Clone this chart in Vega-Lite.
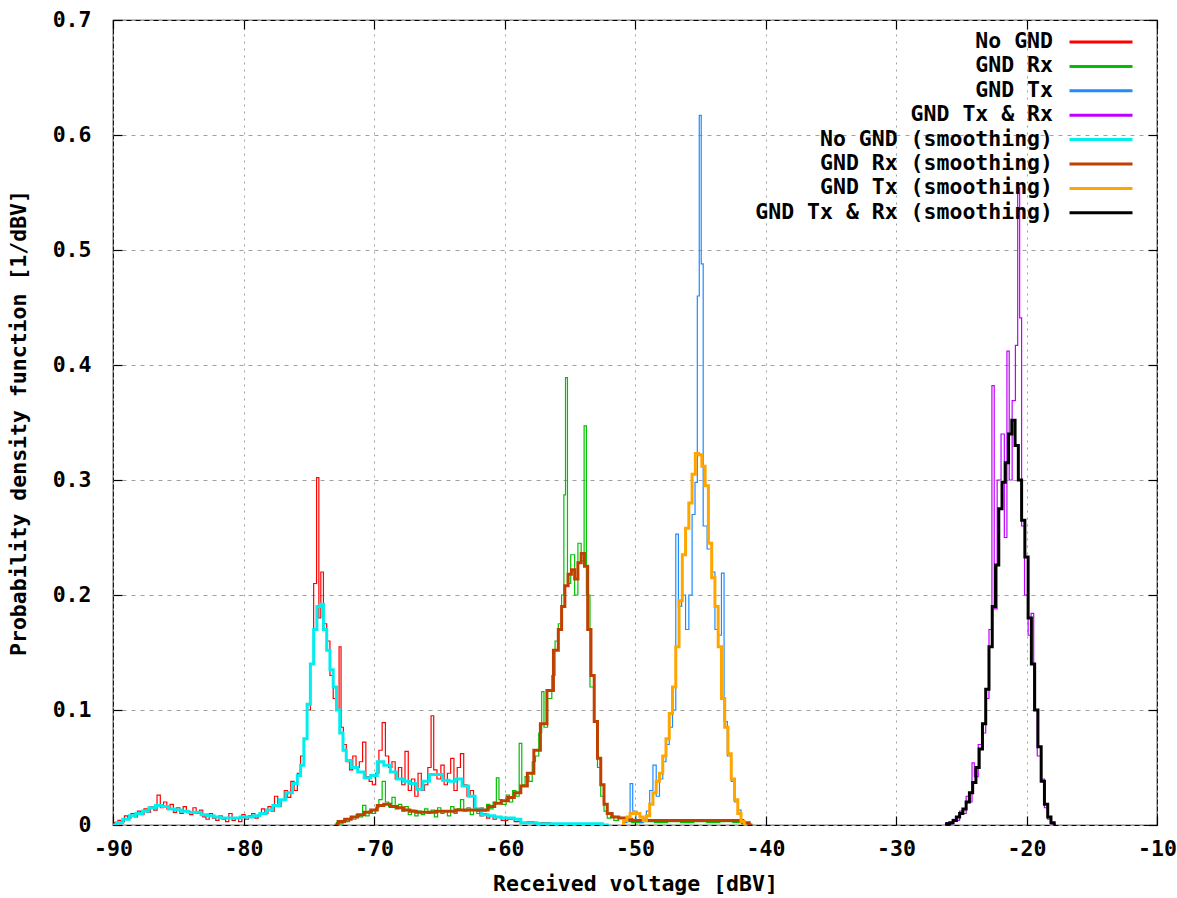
{
  "$schema": "https://vega.github.io/schema/vega-lite/v6.json",
  "width": 1044,
  "height": 805,
  "autosize": {"type": "none"},
  "padding": {"left": 113, "top": 20, "right": 20, "bottom": 73},
  "background": "white",
  "config": {
    "view": {"stroke": "#000000", "strokeWidth": 1.2},
    "font": "DejaVu Sans Mono",
    "axis": {"labelFont": "DejaVu Sans Mono", "labelFontWeight": "bold", "labelFontSize": 21.5, "labelColor": "#000000", "titleFont": "DejaVu Sans Mono", "titleFontWeight": "bold", "titleFontSize": 21.5, "titleColor": "#000000", "tickColor": "#000000", "tickSize": -9, "tickWidth": 1.2, "domain": false, "labelFlush": false},
    "legend": {"labelFont": "DejaVu Sans Mono", "labelFontWeight": "bold", "labelFontSize": 21.5, "labelColor": "#000000"}
  },
  "datasets": {
    "raw": [
      {"s":"No GND","v":-90,"p":0},{"s":"No GND","v":-89.75,"p":0.002},{"s":"No GND","v":-89.5,"p":0.004},{"s":"No GND","v":-89.25,"p":0.003},{"s":"No GND","v":-89,"p":0.008},{"s":"No GND","v":-88.75,"p":0.006},{"s":"No GND","v":-88.5,"p":0.01},{"s":"No GND","v":-88.25,"p":0.007},{"s":"No GND","v":-88,"p":0.012},{"s":"No GND","v":-87.75,"p":0.009},{"s":"No GND","v":-87.5,"p":0.014},{"s":"No GND","v":-87.25,"p":0.011},{"s":"No GND","v":-87,"p":0.016},{"s":"No GND","v":-86.75,"p":0.013},{"s":"No GND","v":-86.5,"p":0.026},{"s":"No GND","v":-86.25,"p":0.015},{"s":"No GND","v":-86,"p":0.02},{"s":"No GND","v":-85.75,"p":0.014},{"s":"No GND","v":-85.5,"p":0.018},{"s":"No GND","v":-85.25,"p":0.011},{"s":"No GND","v":-85,"p":0.015},{"s":"No GND","v":-84.75,"p":0.01},{"s":"No GND","v":-84.5,"p":0.016},{"s":"No GND","v":-84.25,"p":0.012},{"s":"No GND","v":-84,"p":0.009},{"s":"No GND","v":-83.75,"p":0.015},{"s":"No GND","v":-83.5,"p":0.01},{"s":"No GND","v":-83.25,"p":0.013},{"s":"No GND","v":-83,"p":0.007},{"s":"No GND","v":-82.75,"p":0.005},{"s":"No GND","v":-82.5,"p":0.01},{"s":"No GND","v":-82.25,"p":0.006},{"s":"No GND","v":-82,"p":0.004},{"s":"No GND","v":-81.75,"p":0.008},{"s":"No GND","v":-81.5,"p":0.005},{"s":"No GND","v":-81.25,"p":0.003},{"s":"No GND","v":-81,"p":0.01},{"s":"No GND","v":-80.75,"p":0.004},{"s":"No GND","v":-80.5,"p":0.006},{"s":"No GND","v":-80.25,"p":0.003},{"s":"No GND","v":-80,"p":0.009},{"s":"No GND","v":-79.75,"p":0.005},{"s":"No GND","v":-79.5,"p":0.008},{"s":"No GND","v":-79.25,"p":0.01},{"s":"No GND","v":-79,"p":0.006},{"s":"No GND","v":-78.75,"p":0.009},{"s":"No GND","v":-78.5,"p":0.014},{"s":"No GND","v":-78.25,"p":0.01},{"s":"No GND","v":-78,"p":0.016},{"s":"No GND","v":-77.75,"p":0.012},{"s":"No GND","v":-77.5,"p":0.025},{"s":"No GND","v":-77.25,"p":0.016},{"s":"No GND","v":-77,"p":0.022},{"s":"No GND","v":-76.75,"p":0.03},{"s":"No GND","v":-76.5,"p":0.024},{"s":"No GND","v":-76.25,"p":0.038},{"s":"No GND","v":-76,"p":0.03},{"s":"No GND","v":-75.75,"p":0.045},{"s":"No GND","v":-75.5,"p":0.06},{"s":"No GND","v":-75.25,"p":0.075},{"s":"No GND","v":-75,"p":0.1},{"s":"No GND","v":-74.75,"p":0.14},{"s":"No GND","v":-74.5,"p":0.21},{"s":"No GND","v":-74.3,"p":0.302},{"s":"No GND","v":-74.15,"p":0.18},{"s":"No GND","v":-74,"p":0.22},{"s":"No GND","v":-73.75,"p":0.175},{"s":"No GND","v":-73.5,"p":0.16},{"s":"No GND","v":-73.25,"p":0.13},{"s":"No GND","v":-73,"p":0.11},{"s":"No GND","v":-72.75,"p":0.1},{"s":"No GND","v":-72.6,"p":0.155},{"s":"No GND","v":-72.45,"p":0.085},{"s":"No GND","v":-72.25,"p":0.07},{"s":"No GND","v":-72,"p":0.055},{"s":"No GND","v":-71.75,"p":0.048},{"s":"No GND","v":-71.5,"p":0.06},{"s":"No GND","v":-71.25,"p":0.05},{"s":"No GND","v":-71,"p":0.055},{"s":"No GND","v":-70.75,"p":0.072},{"s":"No GND","v":-70.5,"p":0.042},{"s":"No GND","v":-70.25,"p":0.038},{"s":"No GND","v":-70,"p":0.035},{"s":"No GND","v":-69.75,"p":0.045},{"s":"No GND","v":-69.5,"p":0.065},{"s":"No GND","v":-69.25,"p":0.089},{"s":"No GND","v":-69,"p":0.06},{"s":"No GND","v":-68.75,"p":0.05},{"s":"No GND","v":-68.5,"p":0.055},{"s":"No GND","v":-68.25,"p":0.04},{"s":"No GND","v":-68,"p":0.05},{"s":"No GND","v":-67.75,"p":0.035},{"s":"No GND","v":-67.5,"p":0.064},{"s":"No GND","v":-67.25,"p":0.03},{"s":"No GND","v":-67,"p":0.04},{"s":"No GND","v":-66.75,"p":0.025},{"s":"No GND","v":-66.5,"p":0.045},{"s":"No GND","v":-66.25,"p":0.03},{"s":"No GND","v":-66,"p":0.035},{"s":"No GND","v":-65.75,"p":0.05},{"s":"No GND","v":-65.5,"p":0.095},{"s":"No GND","v":-65.35,"p":0.048},{"s":"No GND","v":-65,"p":0.04},{"s":"No GND","v":-64.75,"p":0.052},{"s":"No GND","v":-64.5,"p":0.035},{"s":"No GND","v":-64.25,"p":0.045},{"s":"No GND","v":-64,"p":0.058},{"s":"No GND","v":-63.75,"p":0.03},{"s":"No GND","v":-63.5,"p":0.05},{"s":"No GND","v":-63.25,"p":0.062},{"s":"No GND","v":-63,"p":0.035},{"s":"No GND","v":-62.75,"p":0.025},{"s":"No GND","v":-62.5,"p":0.03},{"s":"No GND","v":-62.25,"p":0.015},{"s":"No GND","v":-62,"p":0.012},{"s":"No GND","v":-61.75,"p":0.008},{"s":"No GND","v":-61.5,"p":0.01},{"s":"No GND","v":-61.25,"p":0.006},{"s":"No GND","v":-61,"p":0.008},{"s":"No GND","v":-60.75,"p":0.005},{"s":"No GND","v":-60.5,"p":0.007},{"s":"No GND","v":-60,"p":0.004},{"s":"No GND","v":-59.5,"p":0.005},{"s":"No GND","v":-59,"p":0.003},{"s":"No GND","v":-58.5,"p":0.002},{"s":"No GND","v":-58,"p":0.003},{"s":"No GND","v":-57.5,"p":0.001},{"s":"No GND","v":-57,"p":0.002},{"s":"No GND","v":-56,"p":0.001},{"s":"No GND","v":-55,"p":0},

      {"s":"GND Rx","v":-73,"p":0},{"s":"GND Rx","v":-72.75,"p":0.002},{"s":"GND Rx","v":-72.5,"p":0.001},{"s":"GND Rx","v":-72.25,"p":0.004},{"s":"GND Rx","v":-72,"p":0.003},{"s":"GND Rx","v":-71.75,"p":0.006},{"s":"GND Rx","v":-71.5,"p":0.005},{"s":"GND Rx","v":-71.25,"p":0.009},{"s":"GND Rx","v":-71,"p":0.007},{"s":"GND Rx","v":-70.75,"p":0.017},{"s":"GND Rx","v":-70.5,"p":0.008},{"s":"GND Rx","v":-70.25,"p":0.012},{"s":"GND Rx","v":-70,"p":0.01},{"s":"GND Rx","v":-69.75,"p":0.015},{"s":"GND Rx","v":-69.5,"p":0.022},{"s":"GND Rx","v":-69.25,"p":0.038},{"s":"GND Rx","v":-69,"p":0.02},{"s":"GND Rx","v":-68.75,"p":0.016},{"s":"GND Rx","v":-68.5,"p":0.024},{"s":"GND Rx","v":-68.25,"p":0.014},{"s":"GND Rx","v":-68,"p":0.018},{"s":"GND Rx","v":-67.75,"p":0.012},{"s":"GND Rx","v":-67.5,"p":0.016},{"s":"GND Rx","v":-67.25,"p":0.009},{"s":"GND Rx","v":-67,"p":0.013},{"s":"GND Rx","v":-66.75,"p":0.008},{"s":"GND Rx","v":-66.5,"p":0.012},{"s":"GND Rx","v":-66.25,"p":0.009},{"s":"GND Rx","v":-66,"p":0.014},{"s":"GND Rx","v":-65.75,"p":0.01},{"s":"GND Rx","v":-65.5,"p":0.013},{"s":"GND Rx","v":-65.25,"p":0.007},{"s":"GND Rx","v":-65,"p":0.015},{"s":"GND Rx","v":-64.75,"p":0.01},{"s":"GND Rx","v":-64.5,"p":0.012},{"s":"GND Rx","v":-64.25,"p":0.008},{"s":"GND Rx","v":-64,"p":0.016},{"s":"GND Rx","v":-63.75,"p":0.01},{"s":"GND Rx","v":-63.5,"p":0.014},{"s":"GND Rx","v":-63.25,"p":0.022},{"s":"GND Rx","v":-63,"p":0.012},{"s":"GND Rx","v":-62.75,"p":0.015},{"s":"GND Rx","v":-62.5,"p":0.009},{"s":"GND Rx","v":-62.25,"p":0.013},{"s":"GND Rx","v":-62,"p":0.01},{"s":"GND Rx","v":-61.75,"p":0.015},{"s":"GND Rx","v":-61.5,"p":0.012},{"s":"GND Rx","v":-61.25,"p":0.018},{"s":"GND Rx","v":-61,"p":0.014},{"s":"GND Rx","v":-60.75,"p":0.02},{"s":"GND Rx","v":-60.5,"p":0.041},{"s":"GND Rx","v":-60.35,"p":0.022},{"s":"GND Rx","v":-60,"p":0.018},{"s":"GND Rx","v":-59.75,"p":0.026},{"s":"GND Rx","v":-59.5,"p":0.02},{"s":"GND Rx","v":-59.25,"p":0.03},{"s":"GND Rx","v":-59,"p":0.025},{"s":"GND Rx","v":-58.75,"p":0.071},{"s":"GND Rx","v":-58.6,"p":0.035},{"s":"GND Rx","v":-58.25,"p":0.042},{"s":"GND Rx","v":-58,"p":0.038},{"s":"GND Rx","v":-57.75,"p":0.055},{"s":"GND Rx","v":-57.5,"p":0.06},{"s":"GND Rx","v":-57.25,"p":0.08},{"s":"GND Rx","v":-57.05,"p":0.116},{"s":"GND Rx","v":-56.9,"p":0.085},{"s":"GND Rx","v":-56.5,"p":0.11},{"s":"GND Rx","v":-56.25,"p":0.13},{"s":"GND Rx","v":-56,"p":0.16},{"s":"GND Rx","v":-55.75,"p":0.175},{"s":"GND Rx","v":-55.5,"p":0.2},{"s":"GND Rx","v":-55.4,"p":0.287},{"s":"GND Rx","v":-55.25,"p":0.389},{"s":"GND Rx","v":-55.1,"p":0.21},{"s":"GND Rx","v":-54.75,"p":0.235},{"s":"GND Rx","v":-54.5,"p":0.2},{"s":"GND Rx","v":-54.25,"p":0.245},{"s":"GND Rx","v":-54,"p":0.23},{"s":"GND Rx","v":-53.8,"p":0.347},{"s":"GND Rx","v":-53.65,"p":0.2},{"s":"GND Rx","v":-53.25,"p":0.12},{"s":"GND Rx","v":-53,"p":0.09},{"s":"GND Rx","v":-52.75,"p":0.05},{"s":"GND Rx","v":-52.5,"p":0.025},{"s":"GND Rx","v":-52.25,"p":0.012},{"s":"GND Rx","v":-52,"p":0.006},{"s":"GND Rx","v":-51.75,"p":0.008},{"s":"GND Rx","v":-51.5,"p":0.004},{"s":"GND Rx","v":-51,"p":0.006},{"s":"GND Rx","v":-50.5,"p":0.003},{"s":"GND Rx","v":-50,"p":0.002},{"s":"GND Rx","v":-49,"p":0.003},{"s":"GND Rx","v":-48,"p":0.002},{"s":"GND Rx","v":-47,"p":0.003},{"s":"GND Rx","v":-46,"p":0.002},{"s":"GND Rx","v":-45,"p":0.003},{"s":"GND Rx","v":-44,"p":0.002},{"s":"GND Rx","v":-43,"p":0.003},{"s":"GND Rx","v":-42,"p":0.002},{"s":"GND Rx","v":-41.5,"p":0.001},{"s":"GND Rx","v":-41,"p":0},

      {"s":"GND Tx","v":-51,"p":0},{"s":"GND Tx","v":-50.75,"p":0.002},{"s":"GND Tx","v":-50.5,"p":0.004},{"s":"GND Tx","v":-50.25,"p":0.036},{"s":"GND Tx","v":-50.1,"p":0.012},{"s":"GND Tx","v":-49.75,"p":0.004},{"s":"GND Tx","v":-49.5,"p":0.002},{"s":"GND Tx","v":-49.25,"p":0.006},{"s":"GND Tx","v":-49,"p":0.012},{"s":"GND Tx","v":-48.75,"p":0.03},{"s":"GND Tx","v":-48.5,"p":0.052},{"s":"GND Tx","v":-48.25,"p":0.025},{"s":"GND Tx","v":-48,"p":0.04},{"s":"GND Tx","v":-47.75,"p":0.055},{"s":"GND Tx","v":-47.5,"p":0.07},{"s":"GND Tx","v":-47.25,"p":0.085},{"s":"GND Tx","v":-47,"p":0.1},{"s":"GND Tx","v":-46.75,"p":0.253},{"s":"GND Tx","v":-46.6,"p":0.19},{"s":"GND Tx","v":-46.25,"p":0.2},{"s":"GND Tx","v":-46,"p":0.17},{"s":"GND Tx","v":-45.75,"p":0.2},{"s":"GND Tx","v":-45.5,"p":0.27},{"s":"GND Tx","v":-45.3,"p":0.298},{"s":"GND Tx","v":-45.15,"p":0.46},{"s":"GND Tx","v":-45,"p":0.617},{"s":"GND Tx","v":-44.85,"p":0.488},{"s":"GND Tx","v":-44.7,"p":0.26},{"s":"GND Tx","v":-44.25,"p":0.24},{"s":"GND Tx","v":-44,"p":0.22},{"s":"GND Tx","v":-43.75,"p":0.17},{"s":"GND Tx","v":-43.5,"p":0.165},{"s":"GND Tx","v":-43.25,"p":0.219},{"s":"GND Tx","v":-43.1,"p":0.09},{"s":"GND Tx","v":-42.75,"p":0.06},{"s":"GND Tx","v":-42.5,"p":0.038},{"s":"GND Tx","v":-42.25,"p":0.02},{"s":"GND Tx","v":-42,"p":0.013},{"s":"GND Tx","v":-41.75,"p":0.004},{"s":"GND Tx","v":-41.5,"p":0},

      {"s":"GND Tx & Rx","v":-26.25,"p":0},{"s":"GND Tx & Rx","v":-26,"p":0.002},{"s":"GND Tx & Rx","v":-25.75,"p":0.001},{"s":"GND Tx & Rx","v":-25.5,"p":0.005},{"s":"GND Tx & Rx","v":-25.25,"p":0.004},{"s":"GND Tx & Rx","v":-25,"p":0.012},{"s":"GND Tx & Rx","v":-24.75,"p":0.01},{"s":"GND Tx & Rx","v":-24.5,"p":0.025},{"s":"GND Tx & Rx","v":-24.25,"p":0.02},{"s":"GND Tx & Rx","v":-24.1,"p":0.054},{"s":"GND Tx & Rx","v":-23.9,"p":0.042},{"s":"GND Tx & Rx","v":-23.5,"p":0.07},{"s":"GND Tx & Rx","v":-23.25,"p":0.08},{"s":"GND Tx & Rx","v":-23,"p":0.11},{"s":"GND Tx & Rx","v":-22.75,"p":0.17},{"s":"GND Tx & Rx","v":-22.55,"p":0.382},{"s":"GND Tx & Rx","v":-22.4,"p":0.188},{"s":"GND Tx & Rx","v":-22.1,"p":0.3},{"s":"GND Tx & Rx","v":-21.8,"p":0.34},{"s":"GND Tx & Rx","v":-21.6,"p":0.25},{"s":"GND Tx & Rx","v":-21.4,"p":0.412},{"s":"GND Tx & Rx","v":-21.25,"p":0.3},{"s":"GND Tx & Rx","v":-20.95,"p":0.369},{"s":"GND Tx & Rx","v":-20.75,"p":0.417},{"s":"GND Tx & Rx","v":-20.6,"p":0.554},{"s":"GND Tx & Rx","v":-20.45,"p":0.441},{"s":"GND Tx & Rx","v":-20.3,"p":0.26},{"s":"GND Tx & Rx","v":-20,"p":0.2},{"s":"GND Tx & Rx","v":-19.75,"p":0.165},{"s":"GND Tx & Rx","v":-19.55,"p":0.184},{"s":"GND Tx & Rx","v":-19.35,"p":0.1},{"s":"GND Tx & Rx","v":-19,"p":0.06},{"s":"GND Tx & Rx","v":-18.75,"p":0.04},{"s":"GND Tx & Rx","v":-18.5,"p":0.015},{"s":"GND Tx & Rx","v":-18.25,"p":0.005},{"s":"GND Tx & Rx","v":-18,"p":0.001},{"s":"GND Tx & Rx","v":-17.75,"p":0}
    ],
    "smooth": [
      {"s":"No GND (smoothing)","v":-90,"p":0},{"s":"No GND (smoothing)","v":-89.5,"p":0.002},{"s":"No GND (smoothing)","v":-89,"p":0.005},{"s":"No GND (smoothing)","v":-88.5,"p":0.008},{"s":"No GND (smoothing)","v":-88,"p":0.01},{"s":"No GND (smoothing)","v":-87.5,"p":0.012},{"s":"No GND (smoothing)","v":-87,"p":0.015},{"s":"No GND (smoothing)","v":-86.5,"p":0.017},{"s":"No GND (smoothing)","v":-86,"p":0.016},{"s":"No GND (smoothing)","v":-85.5,"p":0.014},{"s":"No GND (smoothing)","v":-85,"p":0.013},{"s":"No GND (smoothing)","v":-84.5,"p":0.012},{"s":"No GND (smoothing)","v":-84,"p":0.011},{"s":"No GND (smoothing)","v":-83.5,"p":0.011},{"s":"No GND (smoothing)","v":-83,"p":0.009},{"s":"No GND (smoothing)","v":-82.5,"p":0.008},{"s":"No GND (smoothing)","v":-82,"p":0.007},{"s":"No GND (smoothing)","v":-81.5,"p":0.006},{"s":"No GND (smoothing)","v":-81,"p":0.006},{"s":"No GND (smoothing)","v":-80.5,"p":0.006},{"s":"No GND (smoothing)","v":-80,"p":0.007},{"s":"No GND (smoothing)","v":-79.5,"p":0.007},{"s":"No GND (smoothing)","v":-79,"p":0.008},{"s":"No GND (smoothing)","v":-78.5,"p":0.01},{"s":"No GND (smoothing)","v":-78,"p":0.013},{"s":"No GND (smoothing)","v":-77.5,"p":0.017},{"s":"No GND (smoothing)","v":-77,"p":0.022},{"s":"No GND (smoothing)","v":-76.5,"p":0.028},{"s":"No GND (smoothing)","v":-76,"p":0.036},{"s":"No GND (smoothing)","v":-75.75,"p":0.043},{"s":"No GND (smoothing)","v":-75.5,"p":0.052},{"s":"No GND (smoothing)","v":-75.25,"p":0.075},{"s":"No GND (smoothing)","v":-75,"p":0.105},{"s":"No GND (smoothing)","v":-74.75,"p":0.14},{"s":"No GND (smoothing)","v":-74.5,"p":0.17},{"s":"No GND (smoothing)","v":-74.25,"p":0.19},{"s":"No GND (smoothing)","v":-74,"p":0.192},{"s":"No GND (smoothing)","v":-73.75,"p":0.17},{"s":"No GND (smoothing)","v":-73.5,"p":0.152},{"s":"No GND (smoothing)","v":-73.25,"p":0.135},{"s":"No GND (smoothing)","v":-73,"p":0.12},{"s":"No GND (smoothing)","v":-72.75,"p":0.1},{"s":"No GND (smoothing)","v":-72.5,"p":0.08},{"s":"No GND (smoothing)","v":-72.25,"p":0.065},{"s":"No GND (smoothing)","v":-72,"p":0.056},{"s":"No GND (smoothing)","v":-71.5,"p":0.05},{"s":"No GND (smoothing)","v":-71,"p":0.046},{"s":"No GND (smoothing)","v":-70.5,"p":0.041},{"s":"No GND (smoothing)","v":-70,"p":0.043},{"s":"No GND (smoothing)","v":-69.5,"p":0.055},{"s":"No GND (smoothing)","v":-69,"p":0.052},{"s":"No GND (smoothing)","v":-68.5,"p":0.046},{"s":"No GND (smoothing)","v":-68,"p":0.04},{"s":"No GND (smoothing)","v":-67.5,"p":0.038},{"s":"No GND (smoothing)","v":-67,"p":0.036},{"s":"No GND (smoothing)","v":-66.5,"p":0.031},{"s":"No GND (smoothing)","v":-66,"p":0.038},{"s":"No GND (smoothing)","v":-65.5,"p":0.044},{"s":"No GND (smoothing)","v":-65,"p":0.044},{"s":"No GND (smoothing)","v":-64.5,"p":0.039},{"s":"No GND (smoothing)","v":-64,"p":0.038},{"s":"No GND (smoothing)","v":-63.5,"p":0.04},{"s":"No GND (smoothing)","v":-63,"p":0.034},{"s":"No GND (smoothing)","v":-62.5,"p":0.025},{"s":"No GND (smoothing)","v":-62,"p":0.014},{"s":"No GND (smoothing)","v":-61.5,"p":0.009},{"s":"No GND (smoothing)","v":-61,"p":0.008},{"s":"No GND (smoothing)","v":-60.5,"p":0.007},{"s":"No GND (smoothing)","v":-60,"p":0.006},{"s":"No GND (smoothing)","v":-59.5,"p":0.006},{"s":"No GND (smoothing)","v":-59,"p":0.005},{"s":"No GND (smoothing)","v":-58.5,"p":0.002},{"s":"No GND (smoothing)","v":-58,"p":0.002},{"s":"No GND (smoothing)","v":-57,"p":0.001},{"s":"No GND (smoothing)","v":-56,"p":0.001},{"s":"No GND (smoothing)","v":-55,"p":0.001},{"s":"No GND (smoothing)","v":-54,"p":0.001},{"s":"No GND (smoothing)","v":-53,"p":0.001},{"s":"No GND (smoothing)","v":-52,"p":0},

      {"s":"GND Rx (smoothing)","v":-73,"p":0},{"s":"GND Rx (smoothing)","v":-72.5,"p":0.003},{"s":"GND Rx (smoothing)","v":-72,"p":0.005},{"s":"GND Rx (smoothing)","v":-71.5,"p":0.007},{"s":"GND Rx (smoothing)","v":-71,"p":0.009},{"s":"GND Rx (smoothing)","v":-70.5,"p":0.011},{"s":"GND Rx (smoothing)","v":-70,"p":0.013},{"s":"GND Rx (smoothing)","v":-69.5,"p":0.017},{"s":"GND Rx (smoothing)","v":-69,"p":0.018},{"s":"GND Rx (smoothing)","v":-68.5,"p":0.016},{"s":"GND Rx (smoothing)","v":-68,"p":0.015},{"s":"GND Rx (smoothing)","v":-67.5,"p":0.013},{"s":"GND Rx (smoothing)","v":-67,"p":0.012},{"s":"GND Rx (smoothing)","v":-66.5,"p":0.011},{"s":"GND Rx (smoothing)","v":-66,"p":0.011},{"s":"GND Rx (smoothing)","v":-65.5,"p":0.011},{"s":"GND Rx (smoothing)","v":-65,"p":0.012},{"s":"GND Rx (smoothing)","v":-64.5,"p":0.012},{"s":"GND Rx (smoothing)","v":-64,"p":0.012},{"s":"GND Rx (smoothing)","v":-63.5,"p":0.013},{"s":"GND Rx (smoothing)","v":-63,"p":0.013},{"s":"GND Rx (smoothing)","v":-62.5,"p":0.013},{"s":"GND Rx (smoothing)","v":-62,"p":0.013},{"s":"GND Rx (smoothing)","v":-61.5,"p":0.013},{"s":"GND Rx (smoothing)","v":-61,"p":0.016},{"s":"GND Rx (smoothing)","v":-60.5,"p":0.019},{"s":"GND Rx (smoothing)","v":-60,"p":0.021},{"s":"GND Rx (smoothing)","v":-59.5,"p":0.024},{"s":"GND Rx (smoothing)","v":-59,"p":0.028},{"s":"GND Rx (smoothing)","v":-58.5,"p":0.034},{"s":"GND Rx (smoothing)","v":-58,"p":0.045},{"s":"GND Rx (smoothing)","v":-57.5,"p":0.065},{"s":"GND Rx (smoothing)","v":-57,"p":0.088},{"s":"GND Rx (smoothing)","v":-56.5,"p":0.117},{"s":"GND Rx (smoothing)","v":-56,"p":0.152},{"s":"GND Rx (smoothing)","v":-55.75,"p":0.17},{"s":"GND Rx (smoothing)","v":-55.5,"p":0.19},{"s":"GND Rx (smoothing)","v":-55.25,"p":0.208},{"s":"GND Rx (smoothing)","v":-55,"p":0.218},{"s":"GND Rx (smoothing)","v":-54.75,"p":0.222},{"s":"GND Rx (smoothing)","v":-54.5,"p":0.214},{"s":"GND Rx (smoothing)","v":-54.25,"p":0.228},{"s":"GND Rx (smoothing)","v":-54,"p":0.236},{"s":"GND Rx (smoothing)","v":-53.75,"p":0.225},{"s":"GND Rx (smoothing)","v":-53.5,"p":0.17},{"s":"GND Rx (smoothing)","v":-53.25,"p":0.13},{"s":"GND Rx (smoothing)","v":-53,"p":0.09},{"s":"GND Rx (smoothing)","v":-52.75,"p":0.058},{"s":"GND Rx (smoothing)","v":-52.5,"p":0.035},{"s":"GND Rx (smoothing)","v":-52.25,"p":0.018},{"s":"GND Rx (smoothing)","v":-52,"p":0.01},{"s":"GND Rx (smoothing)","v":-51.5,"p":0.007},{"s":"GND Rx (smoothing)","v":-51,"p":0.006},{"s":"GND Rx (smoothing)","v":-50.5,"p":0.005},{"s":"GND Rx (smoothing)","v":-50,"p":0.004},{"s":"GND Rx (smoothing)","v":-49,"p":0.004},{"s":"GND Rx (smoothing)","v":-48,"p":0.004},{"s":"GND Rx (smoothing)","v":-47,"p":0.004},{"s":"GND Rx (smoothing)","v":-46,"p":0.004},{"s":"GND Rx (smoothing)","v":-45,"p":0.004},{"s":"GND Rx (smoothing)","v":-44,"p":0.004},{"s":"GND Rx (smoothing)","v":-43,"p":0.004},{"s":"GND Rx (smoothing)","v":-42,"p":0.004},{"s":"GND Rx (smoothing)","v":-41.5,"p":0.002},{"s":"GND Rx (smoothing)","v":-41,"p":0},

      {"s":"GND Tx (smoothing)","v":-51,"p":0},{"s":"GND Tx (smoothing)","v":-50.75,"p":0.004},{"s":"GND Tx (smoothing)","v":-50.5,"p":0.007},{"s":"GND Tx (smoothing)","v":-50.25,"p":0.01},{"s":"GND Tx (smoothing)","v":-50,"p":0.011},{"s":"GND Tx (smoothing)","v":-49.75,"p":0.01},{"s":"GND Tx (smoothing)","v":-49.5,"p":0.007},{"s":"GND Tx (smoothing)","v":-49.25,"p":0.004},{"s":"GND Tx (smoothing)","v":-49,"p":0.008},{"s":"GND Tx (smoothing)","v":-48.75,"p":0.018},{"s":"GND Tx (smoothing)","v":-48.5,"p":0.028},{"s":"GND Tx (smoothing)","v":-48.25,"p":0.038},{"s":"GND Tx (smoothing)","v":-48,"p":0.045},{"s":"GND Tx (smoothing)","v":-47.75,"p":0.06},{"s":"GND Tx (smoothing)","v":-47.5,"p":0.075},{"s":"GND Tx (smoothing)","v":-47.25,"p":0.097},{"s":"GND Tx (smoothing)","v":-47,"p":0.12},{"s":"GND Tx (smoothing)","v":-46.75,"p":0.155},{"s":"GND Tx (smoothing)","v":-46.5,"p":0.195},{"s":"GND Tx (smoothing)","v":-46.25,"p":0.235},{"s":"GND Tx (smoothing)","v":-46,"p":0.258},{"s":"GND Tx (smoothing)","v":-45.75,"p":0.28},{"s":"GND Tx (smoothing)","v":-45.5,"p":0.305},{"s":"GND Tx (smoothing)","v":-45.25,"p":0.323},{"s":"GND Tx (smoothing)","v":-45,"p":0.322},{"s":"GND Tx (smoothing)","v":-44.75,"p":0.312},{"s":"GND Tx (smoothing)","v":-44.5,"p":0.295},{"s":"GND Tx (smoothing)","v":-44.25,"p":0.245},{"s":"GND Tx (smoothing)","v":-44,"p":0.215},{"s":"GND Tx (smoothing)","v":-43.75,"p":0.19},{"s":"GND Tx (smoothing)","v":-43.5,"p":0.155},{"s":"GND Tx (smoothing)","v":-43.25,"p":0.11},{"s":"GND Tx (smoothing)","v":-43,"p":0.085},{"s":"GND Tx (smoothing)","v":-42.75,"p":0.062},{"s":"GND Tx (smoothing)","v":-42.5,"p":0.04},{"s":"GND Tx (smoothing)","v":-42.25,"p":0.022},{"s":"GND Tx (smoothing)","v":-42,"p":0.01},{"s":"GND Tx (smoothing)","v":-41.75,"p":0.003},{"s":"GND Tx (smoothing)","v":-41.5,"p":0},

      {"s":"GND Tx & Rx (smoothing)","v":-26.25,"p":0},{"s":"GND Tx & Rx (smoothing)","v":-26,"p":0.001},{"s":"GND Tx & Rx (smoothing)","v":-25.75,"p":0.002},{"s":"GND Tx & Rx (smoothing)","v":-25.5,"p":0.004},{"s":"GND Tx & Rx (smoothing)","v":-25.25,"p":0.007},{"s":"GND Tx & Rx (smoothing)","v":-25,"p":0.01},{"s":"GND Tx & Rx (smoothing)","v":-24.75,"p":0.014},{"s":"GND Tx & Rx (smoothing)","v":-24.5,"p":0.02},{"s":"GND Tx & Rx (smoothing)","v":-24.25,"p":0.028},{"s":"GND Tx & Rx (smoothing)","v":-24,"p":0.037},{"s":"GND Tx & Rx (smoothing)","v":-23.75,"p":0.05},{"s":"GND Tx & Rx (smoothing)","v":-23.5,"p":0.066},{"s":"GND Tx & Rx (smoothing)","v":-23.25,"p":0.088},{"s":"GND Tx & Rx (smoothing)","v":-23,"p":0.118},{"s":"GND Tx & Rx (smoothing)","v":-22.75,"p":0.155},{"s":"GND Tx & Rx (smoothing)","v":-22.5,"p":0.19},{"s":"GND Tx & Rx (smoothing)","v":-22.25,"p":0.226},{"s":"GND Tx & Rx (smoothing)","v":-22,"p":0.275},{"s":"GND Tx & Rx (smoothing)","v":-21.75,"p":0.298},{"s":"GND Tx & Rx (smoothing)","v":-21.5,"p":0.315},{"s":"GND Tx & Rx (smoothing)","v":-21.25,"p":0.34},{"s":"GND Tx & Rx (smoothing)","v":-21,"p":0.352},{"s":"GND Tx & Rx (smoothing)","v":-20.75,"p":0.33},{"s":"GND Tx & Rx (smoothing)","v":-20.5,"p":0.3},{"s":"GND Tx & Rx (smoothing)","v":-20.25,"p":0.265},{"s":"GND Tx & Rx (smoothing)","v":-20,"p":0.233},{"s":"GND Tx & Rx (smoothing)","v":-19.75,"p":0.18},{"s":"GND Tx & Rx (smoothing)","v":-19.5,"p":0.14},{"s":"GND Tx & Rx (smoothing)","v":-19.25,"p":0.1},{"s":"GND Tx & Rx (smoothing)","v":-19,"p":0.068},{"s":"GND Tx & Rx (smoothing)","v":-18.75,"p":0.038},{"s":"GND Tx & Rx (smoothing)","v":-18.5,"p":0.018},{"s":"GND Tx & Rx (smoothing)","v":-18.25,"p":0.007},{"s":"GND Tx & Rx (smoothing)","v":-18,"p":0.002},{"s":"GND Tx & Rx (smoothing)","v":-17.75,"p":0}
    ]
  },
  "layer": [
    {
      "data": {"name": "raw"},
      "mark": {"type": "line", "interpolate": "step", "clip": true, "strokeWidth": 1.2},
      "encoding": {
        "x": {"field": "v", "type": "quantitative", "scale": {"domain": [-90, -10], "nice": false, "zero": false},
          "axis": {"orient": "bottom", "values": [-90, -80, -70, -60, -50, -40, -30, -20, -10], "labelExpr": "'' + datum.value", "grid": true, "gridColor": "#a0a0a0", "gridDash": [2, 5], "gridWidth": 1, "labelPadding": 22, "title": "Received voltage [dBV]", "titlePadding": 14}},
        "y": {"field": "p", "type": "quantitative", "scale": {"domain": [0, 0.7], "nice": false},
          "axis": {"orient": "left", "values": [0, 0.1, 0.2, 0.3, 0.4, 0.5, 0.6, 0.7], "labelExpr": "datum.value == 0 ? '0' : format(datum.value, '.1f')", "grid": true, "gridColor": "#a0a0a0", "gridDash": [4, 5], "gridWidth": 1, "labelPadding": 31, "title": "Probability density function [1/dBV]", "titlePadding": 22}},
        "color": {"field": "s", "type": "nominal", "sort": null,
          "scale": {"domain": ["No GND", "GND Rx", "GND Tx", "GND Tx & Rx", "No GND (smoothing)", "GND Rx (smoothing)", "GND Tx (smoothing)", "GND Tx & Rx (smoothing)"], "range": ["#ff0000", "#00c000", "#1e8cff", "#c000ff", "#00eeee", "#c04000", "#ffa500", "#000000"]},
          "legend": {"title": null, "orient": "none", "legendX": 949, "legendY": 4, "symbolType": "M-3,0H3", "symbolSize": 441, "symbolOffset": 21, "symbolStrokeWidth": 3, "labelAlign": "right", "labelOffset": -60, "rowPadding": 1.4, "padding": 6, "labelLimit": 400}}
      }
    },
    {
      "data": {"name": "smooth"},
      "mark": {"type": "line", "interpolate": "step", "clip": true, "strokeWidth": 3},
      "encoding": {
        "x": {"field": "v", "type": "quantitative", "axis": {"orient": "top", "values": [-90, -80, -70, -60, -50, -40, -30, -20, -10], "labels": false, "grid": false, "title": null}},
        "y": {"field": "p", "type": "quantitative", "axis": {"orient": "right", "values": [0, 0.1, 0.2, 0.3, 0.4, 0.5, 0.6, 0.7], "labels": false, "grid": false, "title": null}},
        "color": {"field": "s", "type": "nominal", "sort": null}
      }
    }
  ],
  "resolve": {"axis": {"x": "independent", "y": "independent"}}
}
